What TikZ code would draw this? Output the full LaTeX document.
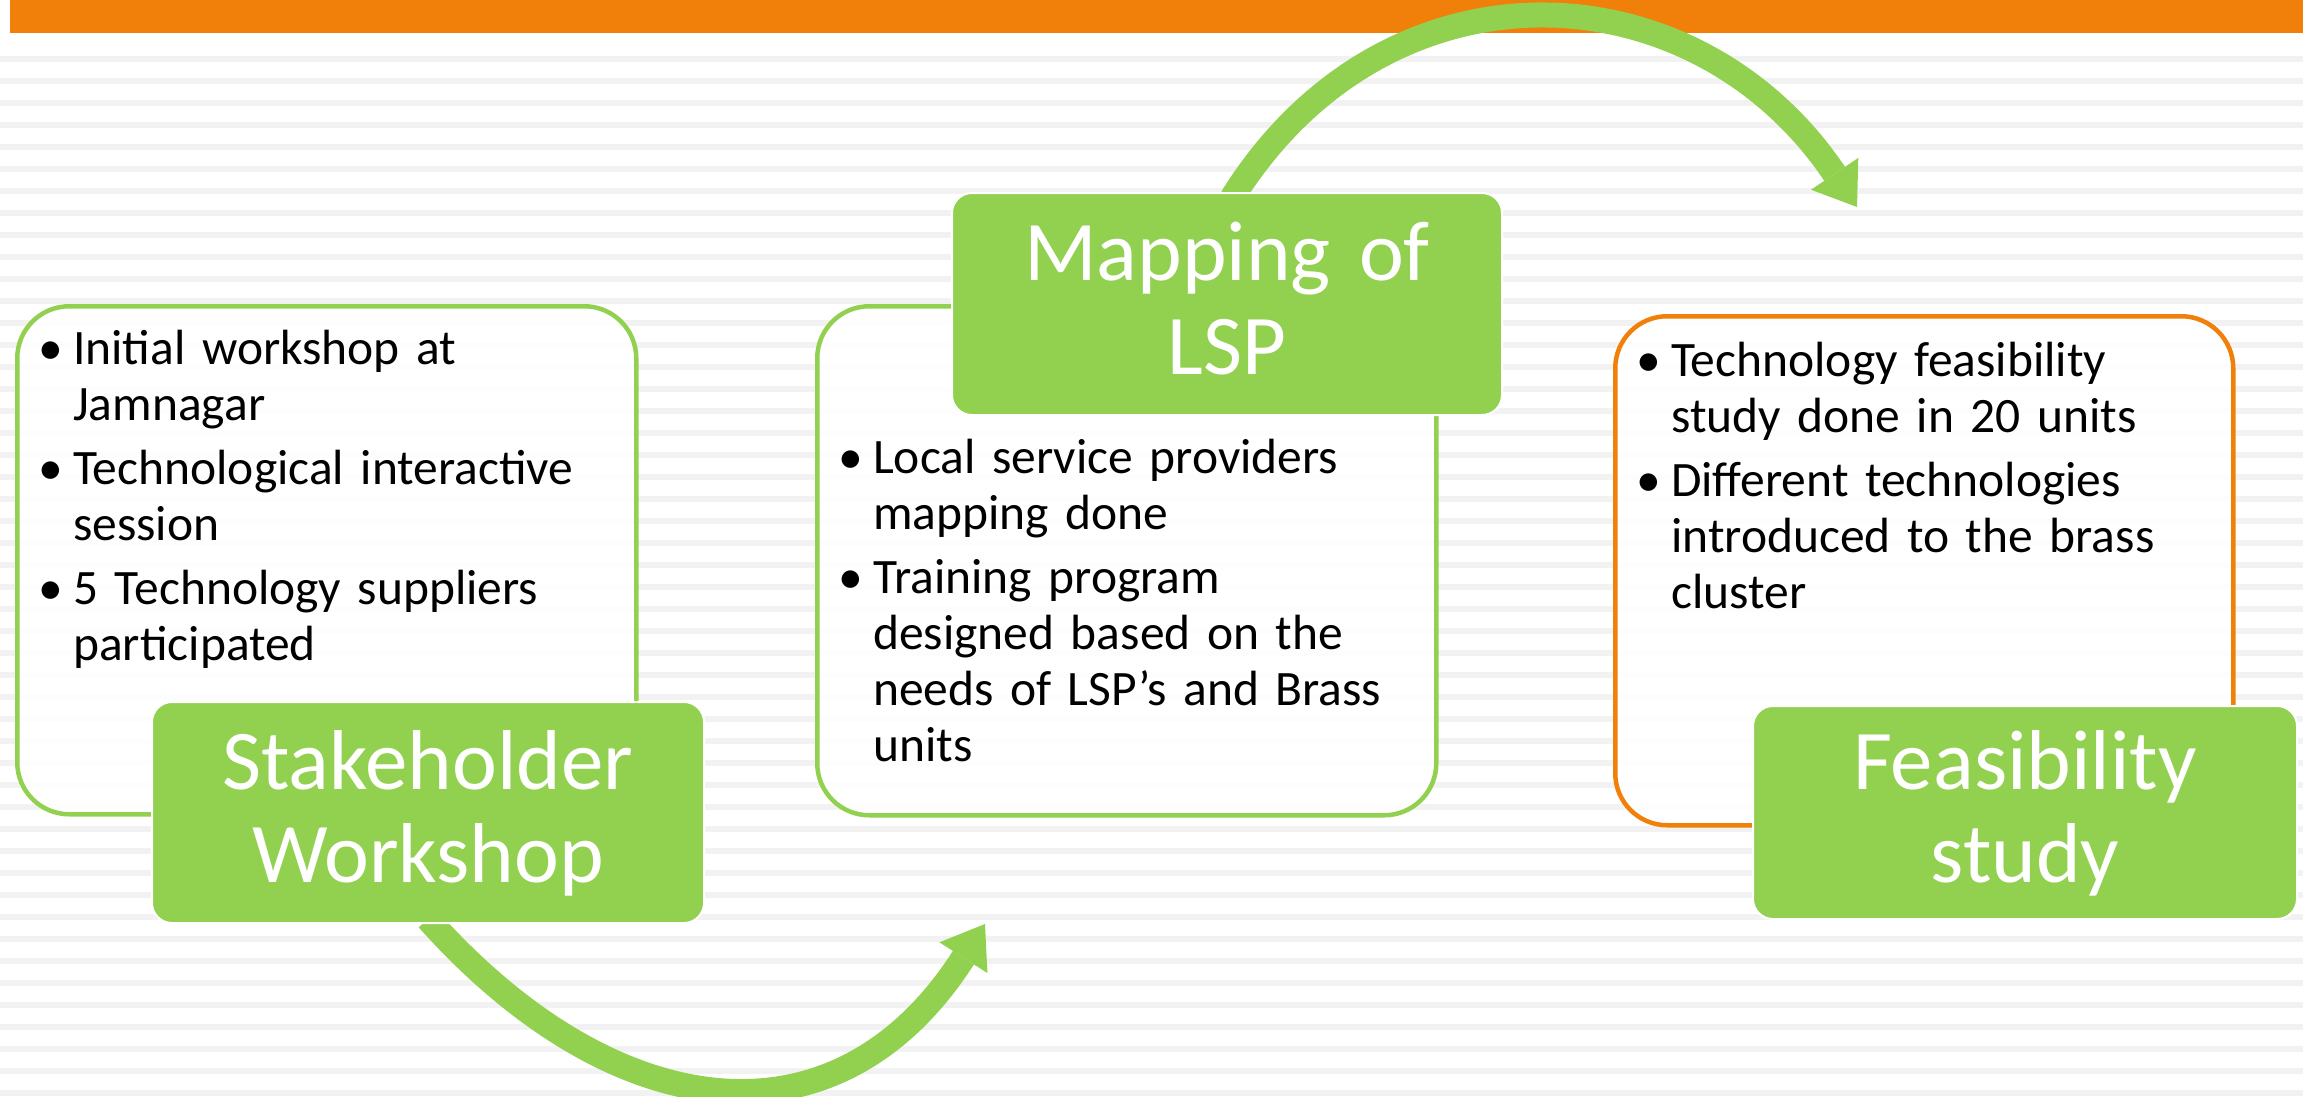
\documentclass[tikz,border=0pt]{standalone}
\usepackage{fontspec}
\setmainfont{Carlito}
\usetikzlibrary{arrows.meta,backgrounds}
\definecolor{leaf}{HTML}{92D050}
\definecolor{amber}{HTML}{F0800A}
\definecolor{stripe}{HTML}{F2F2F2}
\newcommand{\bitem}[1]{\hangindent=29pt\hangafter=1\noindent\makebox[29pt][l]{\hspace{-6pt}\textbullet}#1\par}
\tikzset{
  listbox/.style={rectangle, rounded corners=52pt, line width=4.5pt, fill=white, fill opacity=0.9, inner sep=0pt, anchor=north west},
  listtext/.style={anchor=base west, inner sep=0pt, text width=580pt, font=\fontsize{49.5}{56}\selectfont, execute at begin node={\setlength{\parskip}{8pt}}},
  labelbox/.style={rectangle, rounded corners=20pt, fill=leaf, draw=white, line width=2pt, text=white, text width=540pt, align=center, text height=58pt, text depth=105pt, inner sep=0pt, font=\fontsize{85}{93.5}\selectfont},
  flowarrow/.style={draw=leaf, line width=25pt, -{Triangle[length=40pt,width=57pt,line width=0pt]}}
}
\begin{document}
\begin{tikzpicture}[x=1pt,y=-1pt]
    \useasboundingbox (0,0) rectangle (2303,1096);

    % Background
    \begin{scope}[on background layer]
        \fill[white] (0,0) rectangle (2303,1096);
        \foreach \k in {0,...,47}
            \fill[stripe] (0,56+22*\k) rectangle ++(2303,6);
        \fill[amber] (10,0) rectangle (2303,33);
        \node[listbox, draw=leaf, minimum width=619pt, minimum height=508pt] (stakeBox) at (15,304) {};
        \node[listbox, draw=leaf, minimum width=619pt, minimum height=509pt] (lspBox) at (815,304) {};
        \node[listbox, draw=amber, minimum width=618pt, minimum height=509pt] (feasBox) at (1613,314) {};
    \end{scope}

    % Nodes
    \node[labelbox, minimum width=552pt, minimum height=221pt] (stake) at (428,812.5) {Stakeholder\\Workshop};
    \node[labelbox, minimum width=550pt, minimum height=222pt] (lsp) at (1227,304) {Mapping of\\LSP};
    \node[labelbox, minimum width=544pt, minimum height=213pt] (feas) at (2025,812.5) {Feasibility\\study};

    \node[listtext] (stakeList) at ([xshift=29pt,yshift=-60pt]stakeBox.north west)
        {\bitem{Initial workshop at\newline Jamnagar}
         \bitem{Technological interactive\newline session}
         \bitem{5 Technology suppliers\newline participated}};
    \node[listtext] (lspList) at ([xshift=29pt,yshift=-169pt]lspBox.north west)
        {\bitem{Local service providers\newline mapping done}
         \bitem{Training program\newline designed based on the\newline needs of LSP’s and Brass\newline units}};
    \node[listtext] (feasList) at ([xshift=29pt,yshift=-62pt]feasBox.north west)
        {\bitem{Technology feasibility\newline study done in 20 units}
         \bitem{Different technologies\newline introduced to the brass\newline cluster}};

    % Arrows
    \coordinate (lspIn) at (985,924);
    \coordinate (feasIn) at (1857,207);
    \begin{scope}[on background layer]
        \draw[flowarrow] ([yshift=5pt]stake.south) .. controls (611,1124) and (835,1158) .. (lspIn);
        \draw[flowarrow] ([xshift=5pt,yshift=-6pt]lsp.north) .. controls (1386,-49) and (1694,-35) .. (feasIn);
    \end{scope}

\end{tikzpicture}
\end{document}
